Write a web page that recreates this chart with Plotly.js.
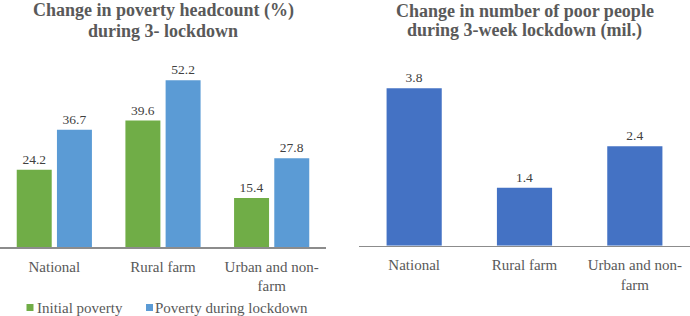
<!DOCTYPE html>
<html>
<head>
<meta charset="utf-8">
<script src="https://cdn.plot.ly/plotly-3.0.1.min.js"></script>
<style>html,body{margin:0;padding:0;background:#fff;}#chart{width:690px;height:316px;}</style>
</head>
<body>
<div id="chart"></div>
<script>
// ---- data ----
const categories = ["National", "Rural farm", "Urban and non-<br>farm"];
const initialPoverty = [24.2, 39.6, 15.4];
const lockdownPoverty = [36.7, 52.2, 27.8];
const poorPeopleChange = [3.8, 1.4, 2.4];
const seriesNames = ["Initial poverty", "Poverty during lockdown"];
const titleLeft = ["Change in poverty headcount (%)", "during 3- lockdown"];
const titleRight = ["Change in number of poor people", "during 3-week lockdown (mil.)"];

const FONT = "Liberation Serif, Times New Roman, serif";
const GREEN = '#70AD47', BLUE = '#5B9BD5', DARKBLUE = '#4472C4';
const W = 690, H = 316;
const py = v => 1 - v / H;

const labelFont = {family: FONT, size: 13.5, color: '#404040'};

const traces = [
  {type: 'bar', x: categories, y: initialPoverty, name: seriesNames[0], marker: {color: GREEN},
   text: initialPoverty.map(v => v.toFixed(1)), textposition: 'outside', textfont: labelFont,
   cliponaxis: false, showlegend: false, hoverinfo: 'none', xaxis: 'x', yaxis: 'y'},
  {type: 'bar', x: categories, y: lockdownPoverty, name: seriesNames[1], marker: {color: BLUE},
   text: lockdownPoverty.map(v => v.toFixed(1)), textposition: 'outside', textfont: labelFont,
   cliponaxis: false, showlegend: false, hoverinfo: 'none', xaxis: 'x', yaxis: 'y'},
  {type: 'bar', x: categories, y: poorPeopleChange, name: 'Change', marker: {color: DARKBLUE},
   width: 0.5, offset: -0.25,
   text: poorPeopleChange.map(v => v.toFixed(1)), textposition: 'outside', textfont: labelFont,
   cliponaxis: false, showlegend: false, hoverinfo: 'none', xaxis: 'x2', yaxis: 'y2'}
];

const xAxisCommon = {
  type: 'category', showline: true, linecolor: '#8C8C8C', linewidth: 1.5,
  showgrid: false, zeroline: false, ticks: '', ticklabelstandoff: 5,
  tickfont: {family: FONT, size: 15, color: '#595959'}, fixedrange: true
};
const yAxisCommon = {showline: false, showgrid: false, zeroline: false, showticklabels: false, fixedrange: true};

const ann = (text, xc, yc) => ({text: text, xref: 'paper', yref: 'paper', x: xc / W, y: py(yc),
  xanchor: 'center', yanchor: 'middle', showarrow: false,
  font: {family: FONT, size: 18, color: '#595959', weight: 'bold'}});

const legendText = (text, x0, yc) => ({text: text, xref: 'paper', yref: 'paper', x: x0 / W, y: py(yc),
  xanchor: 'left', yanchor: 'middle', showarrow: false,
  font: {family: FONT, size: 15, color: '#595959'}});

const swatch = (color, x0, yc) => ({type: 'rect', xref: 'paper', yref: 'paper',
  x0: x0 / W, x1: (x0 + 7) / W, y0: py(yc + 3.5), y1: py(yc - 3.5),
  fillcolor: color, line: {width: 0}});

const layout = {
  width: W, height: H,
  margin: {l: 0, r: 0, t: 0, b: 0},
  paper_bgcolor: '#fff', plot_bgcolor: '#fff',
  barmode: 'group', bargap: 0.26, bargroupgap: 0.13,
  showlegend: false,
  xaxis: Object.assign({}, xAxisCommon, {domain: [0, 326 / W], anchor: 'y'}),
  yaxis: Object.assign({}, yAxisCommon, {domain: [py(247.3), py(55.3)], range: [0, 60], anchor: 'x'}),
  xaxis2: Object.assign({}, xAxisCommon, {domain: [359 / W, 1], anchor: 'y2'}),
  yaxis2: Object.assign({}, yAxisCommon, {domain: [py(245.7), py(59.2)], range: [0, 4.5], anchor: 'x2'}),
  shapes: [swatch(GREEN, 26.5, 307.5), swatch(BLUE, 146, 307.5)],
  annotations: [
    ann(titleLeft[0], 163, 11), ann(titleLeft[1], 163, 31),
    ann(titleRight[0], 524.5, 11), ann(titleRight[1], 524.5, 31),
    legendText(seriesNames[0], 35, 307.5), legendText(seriesNames[1], 153, 307.5)
  ]
};

Plotly.newPlot('chart', traces, layout, {displayModeBar: false, staticPlot: true});
</script>
</body>
</html>
